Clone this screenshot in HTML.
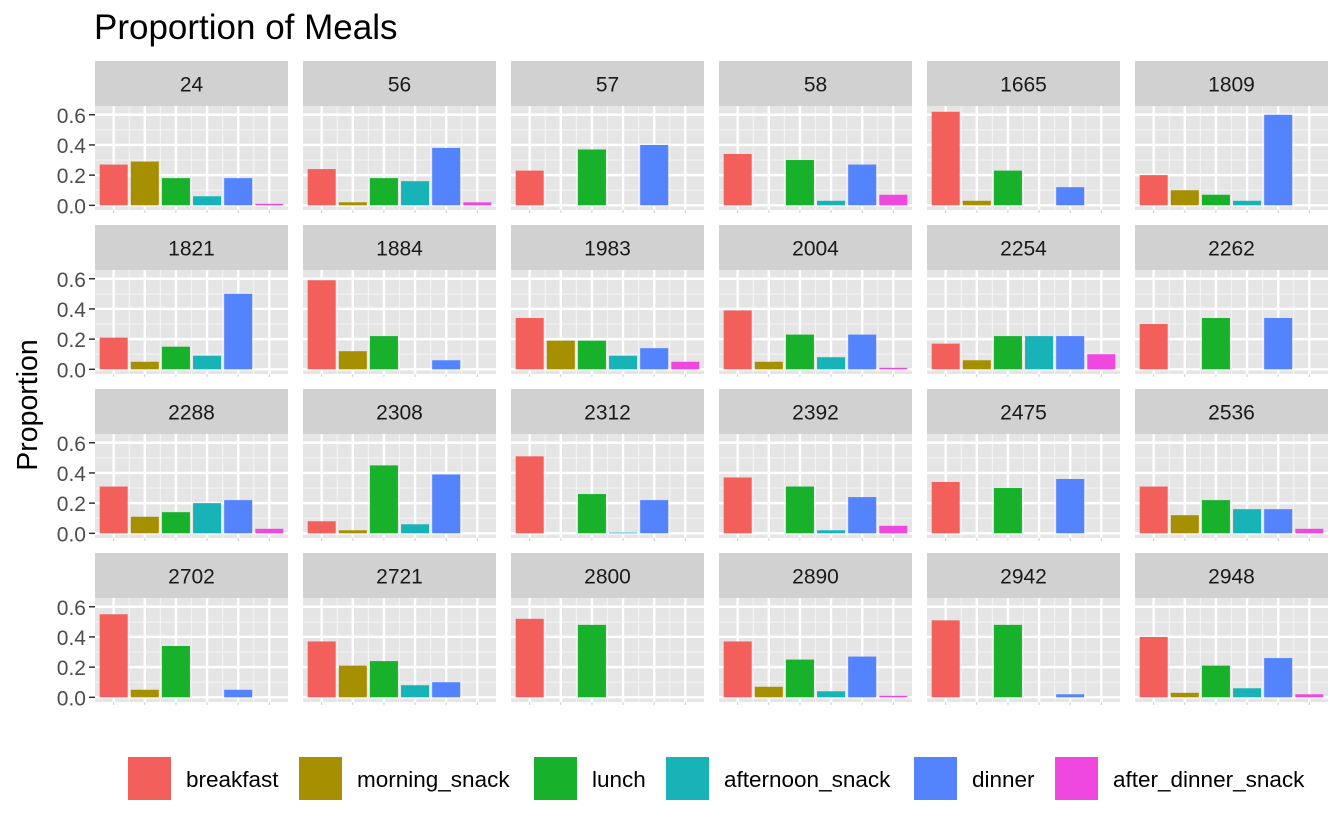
<!DOCTYPE html>
<html><head><meta charset="utf-8"><style>
body{margin:0;background:#fff;}
svg{display:block;font-family:"Liberation Sans",Arial,sans-serif;}
</style></head><body>
<svg id="chart" width="1344" height="830" viewBox="0 0 1344 830" xmlns="http://www.w3.org/2000/svg">
<text x="94" y="39" font-size="35" fill="#000">Proportion of Meals</text>
<text transform="translate(37,405) rotate(-90)" text-anchor="middle" font-size="28.5" fill="#000">Proportion</text>
<g id="panels"></g>
<g id="legend"></g>
</svg>
<script>
const categories = ["breakfast","morning_snack","lunch","afternoon_snack","dinner","after_dinner_snack"];
const colors = ["#F35F5A","#A68F00","#18B12C","#18B3B7","#5384FE","#EE48DF"];
const panelIds = ["24","56","57","58","1665","1809","1821","1884","1983","2004","2254","2262","2288","2308","2312","2392","2475","2536","2702","2721","2800","2890","2942","2948"];
const values = [
[.27,.29,.18,.06,.18,.01],
[.24,.02,.18,.16,.38,.02],
[.23,0,.37,0,.40,0],
[.34,0,.30,.03,.27,.07],
[.62,.03,.23,0,.12,0],
[.20,.10,.07,.03,.60,0],
[.21,.05,.15,.09,.50,0],
[.59,.12,.22,0,.06,0],
[.34,.19,.19,.09,.14,.05],
[.39,.05,.23,.08,.23,.01],
[.17,.06,.22,.22,.22,.10],
[.30,0,.34,0,.34,0],
[.31,.11,.14,.20,.22,.03],
[.08,.02,.45,.06,.39,0],
[.51,0,.26,.005,.22,0],
[.37,0,.31,.02,.24,.05],
[.34,0,.30,0,.36,0],
[.31,.12,.22,.16,.16,.03],
[.55,.05,.34,0,.05,0],
[.37,.21,.24,.08,.10,0],
[.52,0,.48,0,0,0],
[.37,.07,.25,.04,.27,.01],
[.51,0,.48,0,.02,0],
[.40,.03,.21,.06,.26,.02]];
const yTicks = [0,0.2,0.4,0.6];
const yTickLabels = ["0.0","0.2","0.4","0.6"];

const NS="http://www.w3.org/2000/svg";
function mk(tag,attrs,parent){const e=document.createElementNS(NS,tag);for(const k in attrs)e.setAttribute(k,attrs[k]);parent.appendChild(e);return e;}
const panelsG=document.getElementById('panels');
const PW=193, PH=104, SH=45, colStep=208, rowStep=164, x0=95, y0=61;
const yMin=-0.031, yMax=0.658;
panelIds.forEach((id,i)=>{
  const c=i%6, r=Math.floor(i/6);
  const px=x0+c*colStep, sy=y0+r*rowStep, py=sy+SH;
  const ys=v=>py+PH-(v-yMin)/(yMax-yMin)*PH;
  const xs=k=>px+(k+1-0.4)/6.2*PW;
  const g=mk('g',{},panelsG);
  
  
  const strip=mk('rect',{x:px,y:sy,width:PW,height:SH,fill:'#D1D1D1'},g);
  
  
  const st=mk('text',{x:px+PW/2,y:sy+SH/2+8,'text-anchor':'middle','font-size':'21',fill:'#1a1a1a'},g);
  st.textContent=id;
  
  
  const bg=mk('rect',{x:px,y:py,width:PW,height:PH,fill:'#E5E5E5'},g);
  
  
  [0.1,0.3,0.5].forEach(v=>mk('line',{x1:px,x2:px+PW,y1:ys(v),y2:ys(v),stroke:'#f2f2f2','stroke-width':1.2},g));
  for(let k=0;k<5;k++){const x=(xs(k)+xs(k+1))/2;mk('line',{x1:x,x2:x,y1:py,y2:py+PH,stroke:'#f2f2f2','stroke-width':1.2},g);}
  yTicks.forEach(v=>mk('line',{x1:px,x2:px+PW,y1:ys(v),y2:ys(v),stroke:'#fff','stroke-width':2.4},g));
  categories.forEach((cat,k)=>mk('line',{x1:xs(k),x2:xs(k),y1:py,y2:py+PH,stroke:'#fff','stroke-width':2.4},g));
  categories.forEach((cat,k)=>{
    mk('line',{x1:xs(k),x2:xs(k),y1:py+PH,y2:py+PH+3,stroke:'#ccc','stroke-width':1},g);
    const v=values[i][k];
    if(v>0){
      const w=0.9/6.2*PW;
      const b=mk('rect',{x:xs(k)-w/2,y:ys(v),width:w,height:ys(0)-ys(v),fill:colors[k]},g);
      
      
    }
  });
  if(c===0){
    yTicks.forEach((v,t)=>{
      mk('line',{x1:px-6,x2:px,y1:ys(v),y2:ys(v),stroke:'#333','stroke-width':1.5},g);
      const tl=mk('text',{x:px-9,y:ys(v)+8,'text-anchor':'end','font-size':'21',fill:'#4D4D4D'},g);
      tl.textContent=yTickLabels[t];
      
      
    });
  }
});
const leg=document.getElementById('legend');
const keyX=[128,299,534,666,914,1055];
categories.forEach((cat,k)=>{
  const g=mk('g',{},leg);
  
  
  mk('rect',{x:keyX[k],y:757,width:43,height:43,fill:colors[k]},g);
  const t=mk('text',{x:keyX[k]+58,y:787,'font-size':'22.5',fill:'#000'},g);
  t.textContent=cat;
});
</script>
</body></html>
